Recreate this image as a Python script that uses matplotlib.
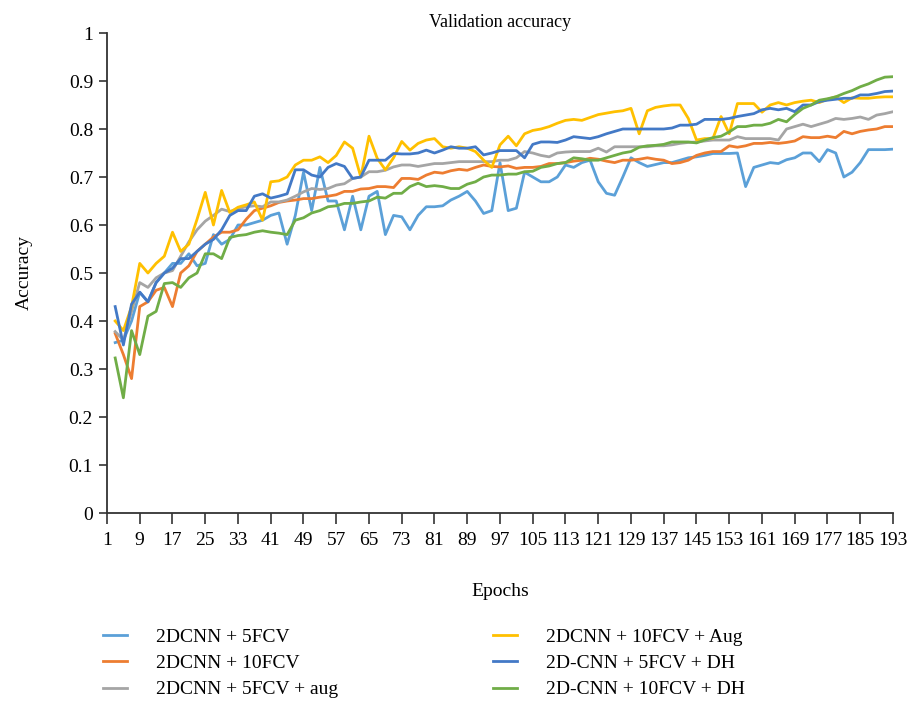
import matplotlib
matplotlib.use("Agg")
import matplotlib.pyplot as plt

epochs = list(range(3, 194, 2))

cnn_5fcv = [0.355, 0.36, 0.40, 0.46, 0.44, 0.48, 0.50, 0.52, 0.52, 0.54, 0.515, 0.52, 0.58, 0.56, 0.57,
            0.60, 0.60, 0.605, 0.61, 0.62, 0.625, 0.56, 0.62, 0.71, 0.63, 0.72, 0.65, 0.65, 0.59, 0.66, 0.59, 0.66,
            0.67, 0.58, 0.62, 0.617, 0.59, 0.62, 0.638, 0.638, 0.64, 0.652, 0.66, 0.67, 0.65, 0.624, 0.63, 0.73,
            0.63, 0.635, 0.71, 0.70, 0.69, 0.69, 0.70, 0.725, 0.72, 0.73, 0.735, 0.69, 0.666, 0.662, 0.70, 0.74,
            0.73, 0.722, 0.726, 0.73, 0.73, 0.735, 0.74, 0.742, 0.745, 0.749, 0.749, 0.749, 0.75, 0.68, 0.72, 0.725,
            0.73, 0.728, 0.736, 0.74, 0.75, 0.75, 0.732, 0.757, 0.75, 0.70, 0.71, 0.73, 0.757, 0.757, 0.757, 0.758]

cnn_10fcv = [0.374, 0.33, 0.28, 0.43, 0.44, 0.464, 0.47, 0.43, 0.50, 0.515, 0.545, 0.56, 0.575, 0.585, 0.585,
             0.59, 0.612, 0.63, 0.635, 0.64, 0.647, 0.65, 0.652, 0.655, 0.655, 0.658, 0.66, 0.663, 0.67, 0.67, 0.675, 0.676,
             0.68, 0.68, 0.678, 0.697, 0.697, 0.695, 0.704, 0.71, 0.708, 0.713, 0.716, 0.714, 0.72, 0.725, 0.722, 0.721,
             0.723, 0.718, 0.72, 0.72, 0.722, 0.728, 0.728, 0.73, 0.733, 0.735, 0.739, 0.737, 0.733, 0.73, 0.735, 0.735,
             0.737, 0.74, 0.737, 0.735, 0.728, 0.73, 0.735, 0.745, 0.75, 0.753, 0.753, 0.765, 0.762, 0.765, 0.77, 0.77,
             0.772, 0.77, 0.772, 0.775, 0.784, 0.782, 0.782, 0.785, 0.782, 0.795, 0.79, 0.795, 0.798, 0.80, 0.805, 0.805]

cnn_5fcv_aug = [0.378, 0.36, 0.42, 0.48, 0.47, 0.49, 0.50, 0.505, 0.535, 0.565, 0.59, 0.608, 0.62, 0.633, 0.628,
                0.634, 0.638, 0.64, 0.638, 0.648, 0.648, 0.652, 0.66, 0.669, 0.676, 0.674, 0.676, 0.683, 0.686, 0.697, 0.70, 0.711,
                0.711, 0.714, 0.721, 0.725, 0.725, 0.722, 0.725, 0.728, 0.728, 0.73, 0.732, 0.732, 0.732, 0.732, 0.732, 0.735,
                0.735, 0.74, 0.753, 0.75, 0.745, 0.742, 0.75, 0.752, 0.753, 0.753, 0.753, 0.76, 0.752, 0.763, 0.763, 0.763,
                0.763, 0.763, 0.765, 0.765, 0.767, 0.77, 0.772, 0.773, 0.775, 0.777, 0.777, 0.777, 0.784, 0.78, 0.78, 0.78,
                0.78, 0.777, 0.80, 0.805, 0.81, 0.805, 0.81, 0.815, 0.822, 0.82, 0.822, 0.825, 0.82, 0.829, 0.832, 0.836]

cnn_10fcv_aug = [0.40, 0.38, 0.43, 0.52, 0.50, 0.52, 0.535, 0.585, 0.545, 0.56, 0.612, 0.668, 0.60, 0.672, 0.626,
                 0.637, 0.642, 0.648, 0.61, 0.69, 0.692, 0.70, 0.725, 0.735, 0.735, 0.742, 0.73, 0.745, 0.773, 0.76, 0.70, 0.785,
                 0.739, 0.715, 0.74, 0.774, 0.756, 0.77, 0.777, 0.78, 0.763, 0.76, 0.763, 0.76, 0.753, 0.735, 0.72, 0.767,
                 0.785, 0.765, 0.79, 0.797, 0.80, 0.805, 0.812, 0.818, 0.82, 0.818, 0.824, 0.83, 0.833, 0.836, 0.838, 0.843,
                 0.79, 0.838, 0.845, 0.848, 0.85, 0.85, 0.822, 0.777, 0.78, 0.78, 0.826, 0.79, 0.853, 0.853, 0.853, 0.835,
                 0.85, 0.855, 0.85, 0.855, 0.858, 0.86, 0.855, 0.862, 0.867, 0.855, 0.865, 0.864, 0.864, 0.866, 0.867, 0.867]

cnn_5fcv_dh = [0.43, 0.35, 0.435, 0.46, 0.44, 0.48, 0.50, 0.51, 0.53, 0.53, 0.545, 0.56, 0.57, 0.59, 0.62,
               0.63, 0.63, 0.66, 0.665, 0.656, 0.66, 0.665, 0.715, 0.715, 0.704, 0.70, 0.72, 0.728, 0.722, 0.697, 0.70, 0.735,
               0.735, 0.735, 0.749, 0.748, 0.748, 0.75, 0.756, 0.75, 0.756, 0.763, 0.76, 0.76, 0.763, 0.746, 0.75, 0.755,
               0.755, 0.755, 0.74, 0.768, 0.773, 0.773, 0.772, 0.777, 0.784, 0.782, 0.78, 0.784, 0.79, 0.795, 0.80, 0.80,
               0.80, 0.80, 0.80, 0.80, 0.802, 0.808, 0.808, 0.81, 0.82, 0.82, 0.82, 0.822, 0.826, 0.829, 0.832, 0.84,
               0.843, 0.84, 0.843, 0.836, 0.85, 0.85, 0.857, 0.86, 0.862, 0.864, 0.864, 0.871, 0.871, 0.874, 0.878, 0.879]

cnn_10fcv_dh = [0.323, 0.24, 0.38, 0.33, 0.41, 0.42, 0.478, 0.48, 0.47, 0.49, 0.50, 0.54, 0.54, 0.53, 0.574,
                0.578, 0.58, 0.585, 0.588, 0.585, 0.583, 0.58, 0.61, 0.615, 0.625, 0.63, 0.638, 0.64, 0.645, 0.645, 0.648, 0.65,
                0.658, 0.656, 0.666, 0.666, 0.68, 0.687, 0.68, 0.682, 0.68, 0.676, 0.676, 0.685, 0.69, 0.70, 0.704, 0.704,
                0.706, 0.706, 0.711, 0.712, 0.72, 0.723, 0.728, 0.73, 0.74, 0.738, 0.735, 0.735, 0.74, 0.745, 0.75, 0.753,
                0.762, 0.765, 0.766, 0.768, 0.773, 0.773, 0.773, 0.771, 0.777, 0.782, 0.785, 0.794, 0.805, 0.805, 0.808, 0.808,
                0.812, 0.82, 0.815, 0.83, 0.843, 0.85, 0.86, 0.863, 0.867, 0.874, 0.88, 0.888, 0.894, 0.902, 0.908, 0.909]

series_names = ["2DCNN + 5FCV", "2DCNN + 10FCV", "2DCNN + 5FCV + aug",
                "2DCNN + 10FCV + Aug", "2D-CNN + 5FCV + DH", "2D-CNN + 10FCV + DH"]
series_values = [cnn_5fcv, cnn_10fcv, cnn_5fcv_aug, cnn_10fcv_aug, cnn_5fcv_dh, cnn_10fcv_dh]
colors = ["#5BA0D8", "#ED7D31", "#A5A5A5", "#FFC000", "#4379C6", "#70AD47"]

x_ticks = list(range(1, 194, 8))
y_ticks = [0, 0.1, 0.2, 0.3, 0.4, 0.5, 0.6, 0.7, 0.8, 0.9, 1]
y_tick_labels = ["0", "0.1", "0.2", "0.3", "0.4", "0.5", "0.6", "0.7", "0.8", "0.9", "1"]

plt.rcParams["font.family"] = ["Liberation Serif", "DejaVu Serif"]

fig = plt.figure(figsize=(9.12, 7.06), dpi=100)
ax = fig.add_axes([107/912, 1 - 513/706, (893-107)/912, (513-33)/706])

for name, vals, c in zip(series_names, series_values, colors):
    ax.plot(epochs, vals, color=c, lw=2.0, label=name, solid_joinstyle="round")

ax.set_xlim(1, 193)
ax.set_ylim(0, 1)
ax.set_xticks(x_ticks)
ax.set_xticklabels([str(t) for t in x_ticks])
ax.set_yticks(y_ticks)
ax.set_yticklabels(y_tick_labels)
for s in ["top", "right"]:
    ax.spines[s].set_visible(False)
for s in ["left", "bottom"]:
    ax.spines[s].set_color("#333333")
    ax.spines[s].set_linewidth(1.3)
ax.tick_params(axis="x", length=8, width=1.2, color="#333333", labelsize=14, pad=6)
ax.tick_params(axis="y", length=6, width=1.2, color="#333333", labelsize=14, pad=4)

ax.set_title("Validation accuracy", fontsize=13, pad=4)
ax.set_ylabel("Accuracy", fontsize=14, labelpad=26)
ax.set_xlabel("Epochs", fontsize=14, labelpad=24)

fig.legend(loc="upper left", bbox_to_anchor=(103/912, 1 - 628/706), ncol=2, frameon=False,
           fontsize=14, handlelength=1.25, handletextpad=1.45, columnspacing=8.0,
           labelspacing=0.45, borderpad=0, borderaxespad=0)

fig.savefig("out.png", dpi=100)
